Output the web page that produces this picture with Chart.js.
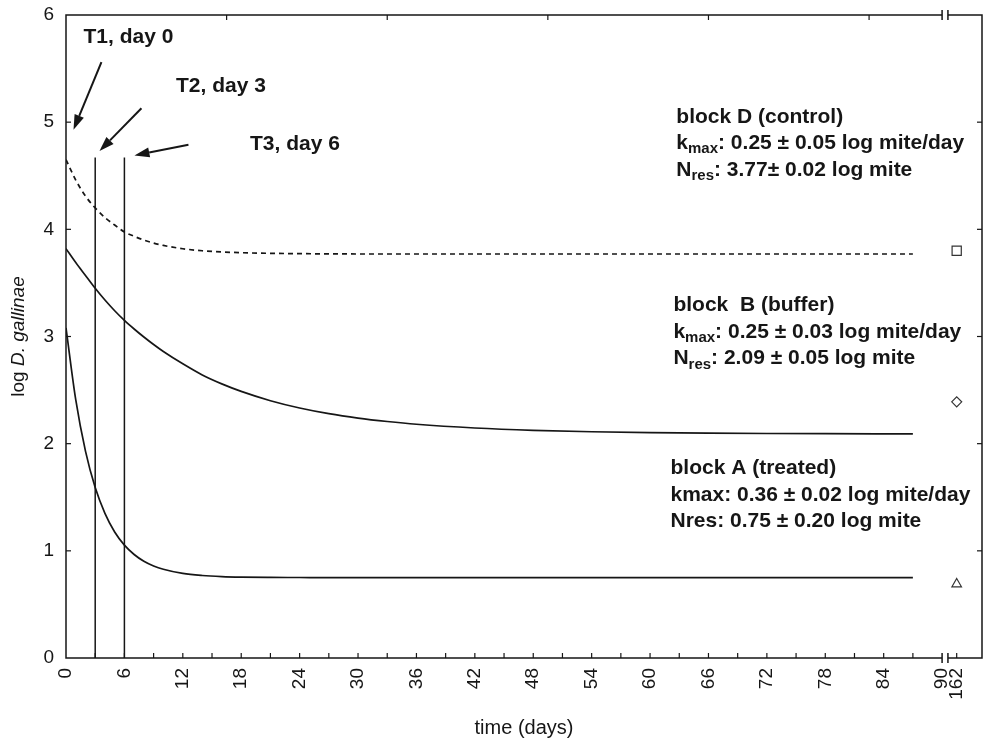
<!DOCTYPE html>
<html>
<head>
<meta charset="utf-8">
<script src="https://cdn.jsdelivr.net/npm/chart.js@4.4.1/dist/chart.umd.min.js"></script>
<style>
  body { margin: 0; background: #fff; }
  canvas { display: block; }
</style>
</head>
<body>
<canvas id="miteChart" width="984" height="746"></canvas>
<script>
// 時間 (days)
const days = [0, 1, 2, 3, 4, 5, 6, 7, 8, 9, 10, 12, 14, 16, 18, 21, 24, 27, 30, 33, 36, 42, 48, 54, 60, 66, 72, 78, 87];
// log D. gallinae per block
const blockD = [4.65, 4.46, 4.31, 4.20, 4.11, 4.04, 3.975, 3.935, 3.90, 3.872, 3.85, 3.819, 3.80, 3.789, 3.782, 3.776, 3.773, 3.771, 3.77, 3.77, 3.77, 3.77, 3.77, 3.77, 3.77, 3.77, 3.77, 3.77, 3.77];
const blockB = [3.82, 3.69, 3.57, 3.45, 3.34, 3.24, 3.15, 3.07, 2.995, 2.925, 2.86, 2.745, 2.641, 2.558, 2.488, 2.401, 2.333, 2.28, 2.239, 2.207, 2.181, 2.146, 2.124, 2.111, 2.103, 2.098, 2.095, 2.093, 2.091];
const blockA = [3.08, 2.41, 1.93, 1.59, 1.35, 1.176, 1.053, 0.966, 0.903, 0.859, 0.828, 0.789, 0.77, 0.76, 0.755, 0.752, 0.751, 0.75, 0.75, 0.75, 0.75, 0.75, 0.75, 0.75, 0.75, 0.75, 0.75, 0.75, 0.75];
// day 162 points, shown after the axis break (D, B, A)
const lateDay = 162;
const lateValues = [3.80, 2.39, 0.69];
// treatment days (vertical lines)
const treatDays = [3, 6];
const treatTop = 4.67;
// axis ticks
const xTickDays = [0, 3, 6, 9, 12, 15, 18, 21, 24, 27, 30, 33, 36, 39, 42, 45, 48, 51, 54, 57, 60, 63, 66, 69, 72, 75, 78, 81, 84, 87, 90];
const topTickDays = [16.5, 33, 49.5, 66, 82.5];
const yTicks = [0, 1, 2, 3, 4, 5, 6];

// 軸の切れ目 (90 | 162)
const breakStart = 90;
const breakEnd = 90.6;
const latePos = 91.5;
const xMax = 94.1;

const INK = '#161616';
const FONT = '"Liberation Sans", Arial, sans-serif';

const arrows = [
  { from: [3.64, 5.56], to: [0.77, 4.93] },
  { from: [7.75, 5.13], to: [3.44, 4.73] },
  { from: [12.58, 4.79], to: [7.03, 4.69] }
];
const treatLabels = [
  { text: 'T1, day 0', x: 1.8, y: 5.79 },
  { text: 'T2, day 3', x: 11.3, y: 5.34 },
  { text: 'T3, day 6', x: 18.9, y: 4.79 }
];
const blockNotes = [
  { x: 62.7, y: 5.05, lines: [
    [['block D (control)']],
    [['k'], ['max', 1], [': 0.25 ± 0.05 log mite/day']],
    [['N'], ['res', 1], [': 3.77± 0.02 log mite']]
  ] },
  { x: 62.4, y: 3.29, lines: [
    [['block  B (buffer)']],
    [['k'], ['max', 1], [': 0.25 ± 0.03 log mite/day']],
    [['N'], ['res', 1], [': 2.09 ± 0.05 log mite']]
  ] },
  { x: 62.1, y: 1.77, lines: [
    [['block A (treated)']],
    [['kmax: 0.36 ± 0.02 log mite/day']],
    [['Nres: 0.75 ± 0.20 log mite']]
  ] }
];

function curve(vals, dash) {
  return {
    data: days.map((d, i) => ({ x: d, y: vals[i] })),
    borderColor: INK,
    borderWidth: 1.7,
    borderDash: dash,
    pointRadius: 0,
    cubicInterpolationMode: 'monotone',
    fill: false
  };
}

const datasets = [
  curve(blockD, [5, 4]),
  curve(blockB, []),
  curve(blockA, [])
];
treatDays.forEach(d => {
  datasets.push({
    data: [{ x: d, y: 0 }, { x: d, y: treatTop }],
    borderColor: INK, borderWidth: 1.5, pointRadius: 0
  });
});
[['rect', 6.5], ['rectRot', 5], ['triangle', 5.5]].forEach(([style, r], i) => {
  datasets.push({
    data: [{ x: latePos, y: lateValues[i] }],
    showLine: false,
    pointStyle: style,
    pointRadius: r,
    pointBorderWidth: 1.2,
    pointBorderColor: '#333',
    pointBackgroundColor: '#fff'
  });
});

function seg(ctx, x1, y1, x2, y2) {
  ctx.beginPath(); ctx.moveTo(x1, y1); ctx.lineTo(x2, y2); ctx.stroke();
}

function noPadding(scale) {
  scale.paddingLeft = 0; scale.paddingRight = 0;
  scale.paddingTop = 0; scale.paddingBottom = 0;
}

// 枠・目盛り・注記
const decor = {
  id: 'decor',
  afterDraw(chart) {
    const { ctx, chartArea: a, scales: { x, y } } = chart;
    ctx.save();
    ctx.strokeStyle = INK;
    ctx.fillStyle = INK;
    ctx.lineWidth = 1.5;
    const b1 = x.getPixelForValue(breakStart), b2 = x.getPixelForValue(breakEnd);
    ctx.beginPath();
    ctx.moveTo(b1, a.top); ctx.lineTo(a.left, a.top); ctx.lineTo(a.left, a.bottom); ctx.lineTo(b1, a.bottom);
    ctx.moveTo(b2, a.bottom); ctx.lineTo(a.right, a.bottom); ctx.lineTo(a.right, a.top); ctx.lineTo(b2, a.top);
    ctx.stroke();
    [b1, b2].forEach(px => [a.top, a.bottom].forEach(py => seg(ctx, px, py - 5, px, py + 5)));
    ctx.lineWidth = 1.2;
    xTickDays.forEach(d => {
      if (d === 0 || d === breakStart) return;
      const px = x.getPixelForValue(d);
      seg(ctx, px, a.bottom, px, a.bottom - 5);
    });
    const lp = x.getPixelForValue(latePos);
    seg(ctx, lp, a.bottom, lp, a.bottom - 5);
    topTickDays.forEach(d => {
      const px = x.getPixelForValue(d);
      seg(ctx, px, a.top, px, a.top + 5);
    });
    yTicks.forEach(v => {
      if (v === 0 || v === 6) return;
      const py = y.getPixelForValue(v);
      seg(ctx, a.left, py, a.left + 5, py);
      seg(ctx, a.right, py, a.right - 5, py);
    });

    // 矢印
    ctx.lineWidth = 2;
    arrows.forEach(ar => {
      const x1 = x.getPixelForValue(ar.from[0]), y1 = y.getPixelForValue(ar.from[1]);
      const x2 = x.getPixelForValue(ar.to[0]), y2 = y.getPixelForValue(ar.to[1]);
      const ang = Math.atan2(y2 - y1, x2 - x1);
      const hl = 15, hw = 5;
      const bx = x2 - hl * Math.cos(ang), by = y2 - hl * Math.sin(ang);
      seg(ctx, x1, y1, bx, by);
      ctx.beginPath();
      ctx.moveTo(x2, y2);
      ctx.lineTo(bx + hw * Math.sin(ang), by - hw * Math.cos(ang));
      ctx.lineTo(bx - hw * Math.sin(ang), by + hw * Math.cos(ang));
      ctx.closePath();
      ctx.fill();
    });

    ctx.textBaseline = 'middle';
    ctx.textAlign = 'left';
    ctx.font = 'bold 21px ' + FONT;
    treatLabels.forEach(t => {
      ctx.fillText(t.text, x.getPixelForValue(t.x), y.getPixelForValue(t.y));
    });

    blockNotes.forEach(note => {
      const left = x.getPixelForValue(note.x);
      let py = y.getPixelForValue(note.y);
      note.lines.forEach(parts => {
        let px = left;
        parts.forEach(([txt, sub]) => {
          ctx.font = (sub ? 'bold 15px ' : 'bold 21px ') + FONT;
          ctx.fillText(txt, px, sub ? py + 6 : py);
          px += ctx.measureText(txt).width;
        });
        py += 26.5;
      });
    });

    // y軸タイトル
    ctx.translate(19, (a.top + a.bottom) / 2);
    ctx.rotate(-Math.PI / 2);
    ctx.font = '19px ' + FONT;
    const w1 = ctx.measureText('log ').width;
    ctx.font = 'italic 19px ' + FONT;
    const w2 = ctx.measureText('D. gallinae').width;
    ctx.font = '19px ' + FONT;
    ctx.fillText('log ', -(w1 + w2) / 2, 0);
    ctx.font = 'italic 19px ' + FONT;
    ctx.fillText('D. gallinae', -(w1 + w2) / 2 + w1, 0);
    ctx.restore();
  }
};

const ctx = document.getElementById('miteChart').getContext('2d');
new Chart(ctx, {
  type: 'line',
  data: { datasets: datasets },
  options: {
    responsive: false,
    animation: false,
    layout: { autoPadding: false, padding: { top: 15, right: 2, left: 0, bottom: 0 } },
    plugins: { legend: { display: false }, tooltip: { enabled: false } },
    scales: {
      x: {
        type: 'linear',
        min: 0,
        max: xMax,
        grid: { display: false, drawTicks: false },
        border: { display: false },
        afterBuildTicks: scale => {
          scale.ticks = xTickDays.concat([latePos]).map(v => ({ value: v }));
        },
        afterFit: scale => { scale.height = 88; noPadding(scale); },
        ticks: {
          autoSkip: false,
          minRotation: 90,
          maxRotation: 90,
          padding: 10,
          color: INK,
          font: { family: FONT, size: 19 },
          callback: v => v === latePos ? String(lateDay) : (v % 6 === 0 ? String(v) : '')
        },
        title: {
          display: true,
          text: 'time (days)',
          color: INK,
          font: { family: FONT, size: 20 },
          padding: { top: 0, bottom: 6 }
        }
      },
      y: {
        min: 0,
        max: 6,
        grid: { display: false, drawTicks: false },
        border: { display: false },
        afterBuildTicks: scale => {
          scale.ticks = yTicks.map(v => ({ value: v }));
        },
        afterFit: scale => { scale.width = 66; noPadding(scale); },
        ticks: {
          padding: 12,
          color: INK,
          font: { family: FONT, size: 19 }
        }
      }
    }
  },
  plugins: [decor]
});
</script>
</body>
</html>
